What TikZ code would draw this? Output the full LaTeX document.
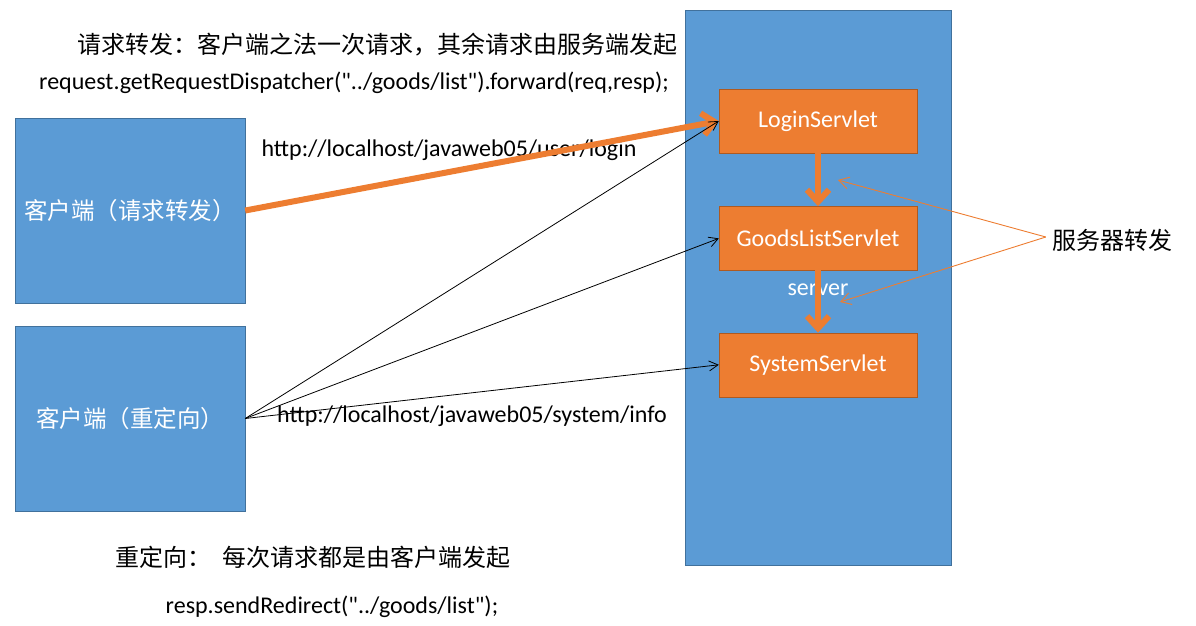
\documentclass[tikz,border=0pt]{standalone}
\usepackage{fontspec}
\newfontfamily\latin{Carlito}
\newfontfamily\cjk{Noto Sans CJK SC}
\usepackage{tikz}
\usetikzlibrary{positioning,arrows.meta}
\definecolor{boxblue}{HTML}{5B9BD5}
\definecolor{boxblueline}{HTML}{41719C}
\definecolor{srvorange}{HTML}{ED7D31}
\definecolor{srvline}{HTML}{AE5A21}
\tikzset{
  client/.style={draw=boxblueline,fill=boxblue,minimum width=230pt,minimum height=185pt,
    text=white,font=\cjk\fontsize{23.5}{26}\selectfont,inner sep=0pt},
  servlet/.style={draw=srvline,fill=srvorange,minimum width=198pt,minimum height=64pt,
    text=white,font=\latin\fontsize{24}{28}\selectfont,inner sep=0pt},
  note/.style={font=\cjk\fontsize{24}{28}\selectfont,inner sep=0pt},
  code/.style={font=\latin\fontsize{24}{28}\selectfont,inner sep=0pt},
  fwd/.style={-{Straight Barb[length=12pt,width=22pt]},line width=6pt,srvorange},
  req/.style={-{Straight Barb[length=9pt,width=10pt]},line width=0.8pt,black},
  hint/.style={-{Straight Barb[length=10pt,width=12pt]},line width=0.9pt,srvorange},
}
\begin{document}
\begin{tikzpicture}[x=1pt,y=-1pt]
  \useasboundingbox (0,0) rectangle (1196,625);
  % server side
  \node[draw=boxblueline,fill=boxblue,minimum width=266pt,minimum height=555pt,inner sep=0pt] (server) at (818,287.5) {};
  \node[servlet] (login) at (818,121) {LoginServlet};
  \node[servlet,below=53pt of login] (goods) {GoodsListServlet};
  \node[servlet,below=62pt of goods] (system) {SystemServlet};
  \node[code,text=white] (srvlbl) at (818,290) {server};
  % clients
  \node[client] (fwdclient) at (130,210.5) {客户端（请求转发）};
  \node[client] (redirclient) at (130,418.5) {客户端（重定向）};
  % texts
  \node[note] (fwdtitle) at (377,45) {请求转发：客户端之法一次请求，其余请求由服务端发起};
  \node[code] (fwdcode) at (354,83) {request.getRequestDispatcher("../goods/list").forward(req,resp);};
  \node[code] (loginurl) at (449,150) {http://localhost/javaweb05/user/login};
  \node[code] (infourl) at (472,416) {http://localhost/javaweb05/system/info};
  \node[note] (srvfwd) at (1112,240) {服务器转发};
  \node[note] (redirtitle) at (313,557) {重定向：\ \ 每次请求都是由客户端发起};
  \node[code] (redircode) at (332,607) {resp.sendRedirect("../goods/list");};
  \coordinate (hintA) at (838,180);
  \coordinate (hintB) at (840,302);
  % connectors
  \draw[fwd] (fwdclient.east) -- (login.west);
  \draw[req] (redirclient.east) -- (login.west);
  \draw[req] (redirclient.east) -- (goods.west);
  \draw[req] (redirclient.east) -- (system.west);
  \draw[fwd] (login) -- (goods);
  \draw[fwd] ([yshift=10pt]goods.south) -- (system.north);
  \draw[hint] (srvfwd.west) ++(-6,-3) -- (hintA);
  \draw[hint] (srvfwd.west) ++(-6,-3) -- (hintB);
\end{tikzpicture}
\end{document}
